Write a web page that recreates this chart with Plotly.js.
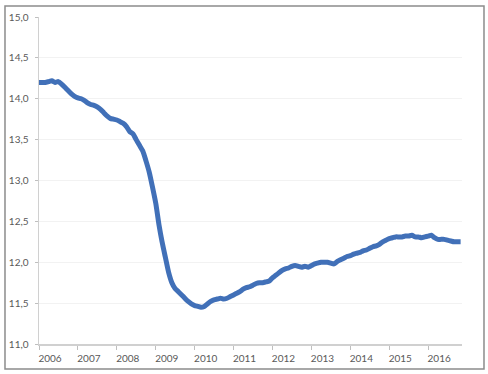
<!DOCTYPE html>
<html>
<head>
<meta charset="utf-8">
<script src="https://cdn.plot.ly/plotly-3.0.1.min.js"></script>
<style>html,body{margin:0;padding:0;background:#fff;}#chart{width:488px;height:374px;}</style>
</head>
<body>
<div id="chart"></div>
<script>
// Monthly series, starting January 2006
var startYear = 2006;
var values = [
  14.20, 14.20, 14.20, 14.21, 14.22, 14.20, 14.21, 14.18, 14.14, 14.10, 14.06, 14.03,
  14.01, 14.00, 13.98, 13.95, 13.93, 13.92, 13.90, 13.87, 13.83, 13.79, 13.76, 13.75,
  13.74, 13.72, 13.70, 13.66, 13.60, 13.57, 13.50, 13.43, 13.36, 13.24, 13.10, 12.92,
  12.72, 12.45, 12.25, 12.06, 11.88, 11.75, 11.68, 11.64, 11.60, 11.56, 11.52, 11.49,
  11.47, 11.46, 11.45, 11.46, 11.49, 11.52, 11.54, 11.55, 11.56, 11.55, 11.56, 11.58,
  11.60, 11.62, 11.64, 11.67, 11.69, 11.70, 11.72, 11.74, 11.75, 11.75, 11.76, 11.77,
  11.81, 11.84, 11.87, 11.90, 11.92, 11.93, 11.95, 11.96, 11.95, 11.94, 11.95, 11.94,
  11.96, 11.98, 11.99, 12.00, 12.00, 12.00, 11.99, 11.98, 12.01, 12.03, 12.05, 12.07,
  12.08, 12.10, 12.11, 12.12, 12.14, 12.15, 12.17, 12.19, 12.20, 12.22, 12.25, 12.27,
  12.29, 12.30, 12.31, 12.31, 12.31, 12.32, 12.32, 12.33, 12.31, 12.31, 12.30, 12.31,
  12.32, 12.33, 12.30, 12.28, 12.28, 12.28, 12.27, 12.26, 12.25, 12.25, 12.25
];
var years = ["2006","2007","2008","2009","2010","2011","2012","2013","2014","2015","2016"];
var yTicks = [11.0, 11.5, 12.0, 12.5, 13.0, 13.5, 14.0, 14.5, 15.0];

var dates = values.map(function(v, i){
  var y = startYear + Math.floor(i / 12);
  var m = (i % 12) + 1;
  return y + "-" + (m < 10 ? "0" + m : m) + "-01";
});
var yearDates = years.map(function(y){ return y + "-01-01"; });

var trace = {
  x: dates, y: values, type: "scatter", mode: "lines",
  line: {color: "#4170b8", width: 5, shape: "spline", smoothing: 0.6},
  hoverinfo: "skip"
};

var fontFam = "Lato, 'DejaVu Sans', sans-serif";
var layout = {
  width: 488, height: 374,
  margin: {l: 39, r: 26, t: 17, b: 30},
  paper_bgcolor: "#ffffff", plot_bgcolor: "#ffffff",
  separators: ",.",
  showlegend: false,
  font: {family: fontFam, size: 10, color: "#595959"},
  xaxis: {
    type: "date",
    range: ["2006-01-01", "2016-11-14"],
    tickmode: "array", tickvals: yearDates, ticktext: years,
    ticks: "outside", ticklen: 4, tickwidth: 1, tickcolor: "#bfbfbf",
    ticklabelshift: 11,
    showgrid: false, zeroline: false,
    showline: true, linecolor: "#d0d0d0", linewidth: 1.5,
    tickfont: {family: fontFam, size: 10, color: "#595959"}
  },
  yaxis: {
    range: [11, 15],
    tickmode: "array", tickvals: yTicks,
    tickformat: ".1f",
    ticks: "outside", ticklen: 3, tickwidth: 1, tickcolor: "#bfbfbf",
    showgrid: true, gridcolor: "#f2f2f2", gridwidth: 1,
    zeroline: false,
    showline: true, linecolor: "#d0d0d0", linewidth: 1.5,
    tickfont: {family: fontFam, size: 10, color: "#595959"},
    ticklabelstandoff: 4
  },
  shapes: [{
    type: "rect", xref: "paper", yref: "paper",
    x0: -0.0804, x1: 1.052, y0: -0.0765, y1: 1.0336,
    line: {color: "#8c8c8c", width: 1.5}, fillcolor: "rgba(0,0,0,0)", layer: "below"
  }]
};

Plotly.newPlot("chart", [trace], layout, {displayModeBar: false, staticPlot: true});
</script>
</body>
</html>
